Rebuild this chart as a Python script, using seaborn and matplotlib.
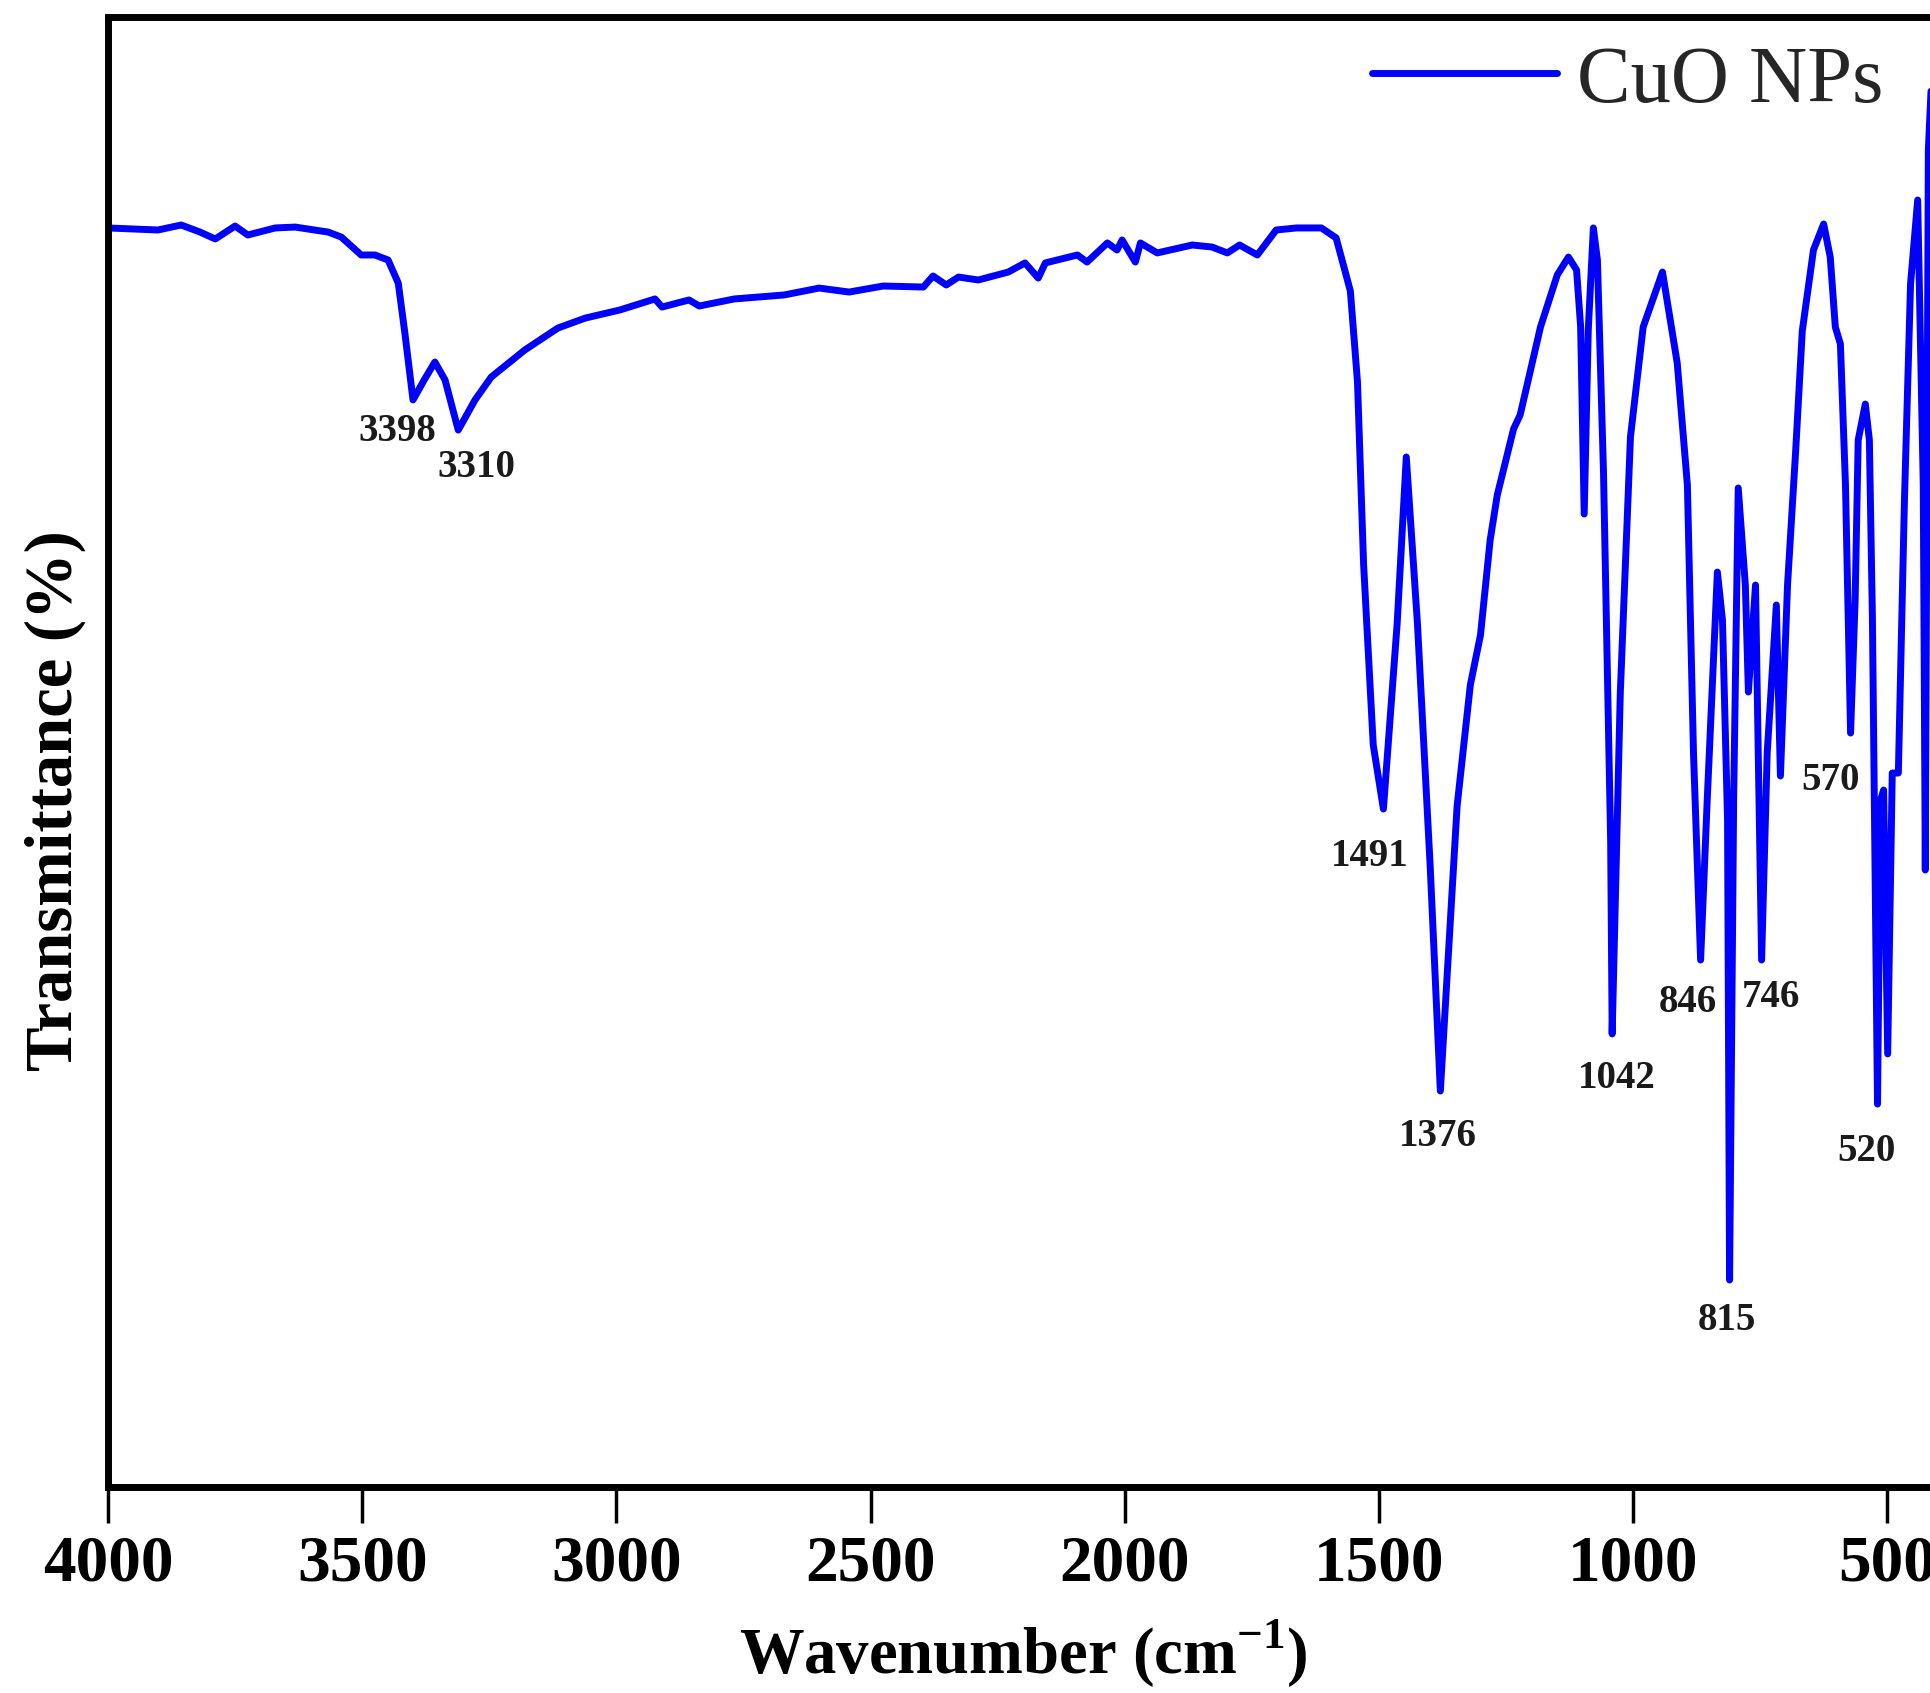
import numpy as np
import pandas as pd
import matplotlib
matplotlib.use('Agg')
import matplotlib.pyplot as plt
import seaborn as sns

# ---- data ----
wavenumber = [4000, 3902, 3856, 3819, 3789, 3750, 3725, 3671, 3632, 3567,
              3541, 3502, 3475, 3449, 3429, 3416, 3400, 3378, 3357, 3337,
              3311, 3278, 3246, 3180, 3115, 3061, 2993, 2924, 2910, 2857,
              2837, 2768, 2670, 2601, 2542, 2475, 2396, 2377, 2351, 2327,
              2288, 2229, 2196, 2170, 2156, 2093, 2074, 2034, 2015, 2005,
              1979, 1969, 1936, 1867, 1828, 1798, 1774, 1739, 1702, 1662,
              1613, 1584, 1556, 1542, 1530, 1511, 1491, 1464, 1446, 1424,
              1399, 1379, 1346, 1320, 1300, 1281, 1267, 1235, 1222, 1182,
              1149, 1127, 1111, 1103, 1096, 1088, 1078, 1070, 1058, 1044,
              1041, 1025, 1005, 980, 942, 913, 893, 881, 867, 854,
              834, 824, 814, 810, 802, 793, 779, 773, 759, 747,
              736, 718, 710, 696, 680, 667, 645, 625, 612, 602,
              592, 582, 578, 572, 563, 557, 543, 535, 529, 519,
              513, 507, 499, 490, 478, 466, 454, 440, 429, 425,
              419, 411]
transmittance = [85.65, 85.51, 85.85, 85.37, 84.90, 85.78, 85.17, 85.65, 85.71, 85.37,
                 85.03, 83.81, 83.81, 83.47, 81.90, 78.50, 73.95, 75.31, 76.53, 75.31,
                 71.90, 73.95, 75.51, 77.35, 78.84, 79.52, 80.07, 80.82, 80.27, 80.75,
                 80.34, 80.82, 81.09, 81.56, 81.29, 81.70, 81.63, 82.38, 81.77, 82.31,
                 82.11, 82.65, 83.27, 82.24, 83.27, 83.81, 83.33, 84.63, 84.15, 84.83,
                 83.33, 84.63, 83.95, 84.49, 84.35, 83.95, 84.49, 83.81, 85.51, 85.65,
                 85.65, 84.97, 81.36, 75.17, 62.79, 50.48, 46.12, 58.71, 70.07, 58.71,
                 42.24, 26.94, 46.33, 54.56, 57.96, 64.42, 67.48, 71.97, 72.93, 78.91,
                 82.45, 83.67, 82.79, 78.91, 66.19, 78.71, 85.65, 83.47, 68.98, 44.01,
                 30.82, 54.01, 71.43, 78.91, 82.65, 76.46, 68.16, 49.93, 35.85, 46.73,
                 62.24, 58.98, 45.37, 14.08, 46.73, 67.96, 61.36, 54.08, 61.36, 35.85,
                 49.93, 60.00, 48.37, 61.36, 70.48, 78.64, 84.15, 85.92, 83.67, 78.91,
                 77.76, 68.16, 61.36, 51.29, 60.34, 71.22, 73.67, 71.22, 59.05, 26.05,
                 46.73, 47.41, 29.46, 48.57, 48.57, 67.14, 81.84, 87.55, 68.16, 41.97,
                 90.95, 97.07]

series_name = 'CuO NPs'
peak_labels = ['3398', '3310', '1491', '1376', '1042', '846', '746', '815', '570', '520']
label_wn = [3431, 3276, 1517, 1383, 1031, 893, 728, 816, 612, 541]
label_t = [71.77, 69.32, 42.86, 23.81, 27.76, 32.93, 33.27, 11.36, 48.03, 22.79]
xtick_values = [4000, 3500, 3000, 2500, 2000, 1500, 1000, 500]

# ---- style ----
sns.set_theme(style='ticks')
plt.rcParams['font.family'] = ['Liberation Serif', 'DejaVu Serif']
plt.rcParams['mathtext.fontset'] = 'custom'
plt.rcParams['mathtext.rm'] = 'Liberation Serif'
plt.rcParams['mathtext.bf'] = 'Liberation Serif:bold'

W, H = 1930, 1693
fig = plt.figure(figsize=(W / 100, H / 100), dpi=100)
ax = fig.add_axes([108 / W, 1 - 1487 / H, 1830 / W, 1470 / H])

df = pd.DataFrame({'Wavenumber': wavenumber, 'Transmittance': transmittance,
                   'Sample': series_name})
sns.lineplot(data=df, x='Wavenumber', y='Transmittance', hue='Sample',
             palette=['#0000FF'], sort=False, estimator=None, linewidth=5,
             ax=ax, legend=True)
for ln in ax.get_lines():
    ln.set_solid_joinstyle('round')
    ln.set_solid_capstyle('round')

ax.set_xlim(4000, 400)
ax.set_ylim(0, 100)
ax.set_xticks(xtick_values)
ax.set_xticklabels([str(v) for v in xtick_values])
ax.set_yticks([])
ax.tick_params(axis='x', direction='out', length=26, width=2.5, labelsize=47,
               pad=8, color='black', labelcolor='black')
for lab in ax.get_xticklabels():
    lab.set_fontweight('bold')

for side in ['top', 'left', 'bottom']:
    ax.spines[side].set_linewidth(5)
    ax.spines[side].set_color('black')
ax.spines['right'].set_visible(False)

ax.set_xlabel('Wavenumber (cm$^{\\mathbf{-1}}$)', fontsize=46.5, fontweight='bold',
              labelpad=16, color='black')
ax.set_ylabel('Transmittance (%)', fontsize=48, fontweight='bold', color='black')
ax.yaxis.set_label_coords(-0.012, 0.467)

for txt, xw, yt in zip(peak_labels, label_wn, label_t):
    ax.text(xw, yt, txt, fontsize=28, fontweight='bold', ha='center', va='center',
            color='#1a1a1a')

handles, labels = ax.get_legend_handles_labels()
leg = ax.legend(handles, labels, loc='center left',
                bbox_to_anchor=(1372 / W, 1 - 82 / H), bbox_transform=fig.transFigure,
                frameon=False, handlelength=2.3, handletextpad=0.25, borderpad=0,
                borderaxespad=0, prop={'family': 'Liberation Serif', 'size': 58})
for line in leg.get_lines():
    line.set_linewidth(5)

fig.savefig('out.png', dpi=100)
